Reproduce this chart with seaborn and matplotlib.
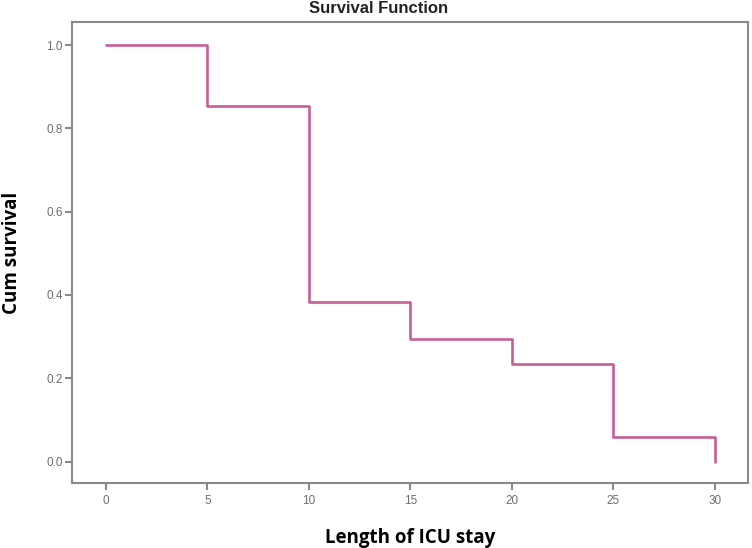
import pandas as pd
import matplotlib
matplotlib.use("Agg")
import matplotlib.pyplot as plt
import seaborn as sns

# --- DATA ---
icu_days = [0, 5, 10, 15, 20, 25, 30]
cum_survival = [1.0, 0.853, 0.382, 0.294, 0.235, 0.059, 0.0]
x_ticks = [0, 5, 10, 15, 20, 25, 30]
y_ticks = [0.0, 0.2, 0.4, 0.6, 0.8, 1.0]

LINE_COLOR = '#c75e95'
FRAME_COLOR = '#8a8a8a'
TICK_TEXT = '#6e6e6e'

sns.set_style("white")
plt.rcParams['font.family'] = ['Liberation Sans', 'DejaVu Sans']

df = pd.DataFrame({'days': icu_days, 'surv': cum_survival})

fig = plt.figure(figsize=(7.52, 5.48), dpi=100)
ax = fig.add_axes([0.0961, 0.1195, 0.8986, 0.8398])

sns.lineplot(data=df, x='days', y='surv', drawstyle='steps-post',
             estimator=None, color=LINE_COLOR, linewidth=1.9, ax=ax)

ax.set_xlim(-1.66, 31.63)
ax.set_ylim(-0.0504, 1.0545)
ax.set_xticks(x_ticks)
ax.set_yticks(y_ticks)
ax.set_xticklabels([str(t) for t in x_ticks])
ax.set_yticklabels([f"{t:.1f}" for t in y_ticks])

for side in ax.spines.values():
    side.set_color(FRAME_COLOR)
    side.set_linewidth(1.5)

ax.tick_params(axis='both', direction='out', length=5, width=1.5,
               bottom=True, left=True,
               color=FRAME_COLOR, labelcolor=TICK_TEXT, labelsize=8.5)
ax.tick_params(axis='x', pad=4)
ax.tick_params(axis='y', pad=2)

ax.set_xlabel("Length of ICU stay", fontsize=13.5, fontweight='bold',
              family=['Open Sans', 'DejaVu Sans'], color='black', labelpad=15)
ax.set_ylabel("Cum survival", fontsize=13.5, fontweight='bold',
              family=['Open Sans', 'DejaVu Sans'], color='black', labelpad=17)

fig.text(0.503, 0.984, "Survival Function", ha='center', va='center',
         fontsize=12, fontweight='bold', color='#222222')

fig.savefig('out.png', dpi=100)
